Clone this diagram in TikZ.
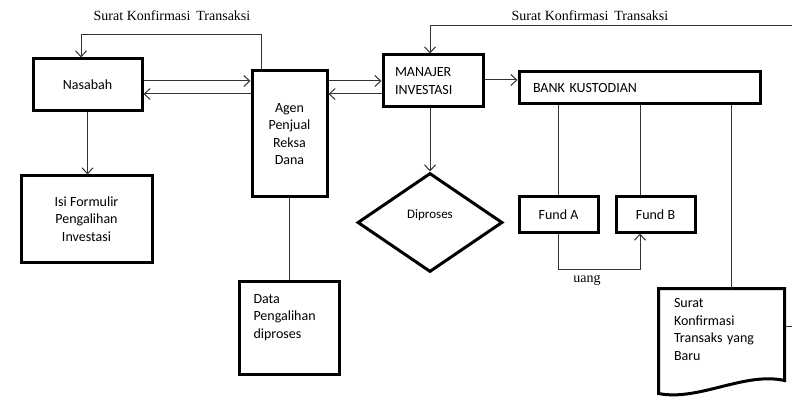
\documentclass[tikz,border=0pt]{standalone}
\usepackage{fontspec}
\setmainfont{Liberation Serif}
\newfontfamily\boxfont{Carlito}
\usetikzlibrary{shapes.geometric,arrows.meta,positioning,calc}

\begin{document}
\begin{tikzpicture}[x=1pt, y=-1pt]

% Define styles
\tikzstyle{box} = [rectangle, minimum width=109pt, minimum height=52pt, text centered, draw=black, line width=3pt, inner sep=0pt, font=\boxfont\fontsize{14}{17.5}\selectfont, align=center]
\tikzstyle{decision} = [diamond, minimum width=145pt, minimum height=99pt, draw=black, line width=3pt, inner sep=0pt, font=\boxfont\fontsize{13}{16}\selectfont]
\tikzstyle{arrow} = [line width=1pt, black!80, -{Straight Barb[length=6pt,width=11pt]}]
\tikzstyle{link} = [line width=1pt, black!80]
\tikzstyle{note} = [font=\fontsize{14}{16}\selectfont, inner sep=0pt]

\useasboundingbox (0,0) rectangle (792,398);

% Customer side
\node (nasabah) [box] at (87.5,85) {Nasabah};
\node (isi) [box, minimum width=131pt, minimum height=86pt, below=62pt of nasabah, xshift=-1pt] {Isi Formulir\\Pengalihan\\Investasi};

% Selling agent
\node (agen) [box, minimum width=75pt, minimum height=126pt] at (289.5,134) {Agen\\Penjual\\Reksa\\Dana};
\node (data) [box, minimum width=100pt, minimum height=93pt, text width=72pt, align=left, below=81pt of agen] {Data\\Pengalihan\\diproses\\\strut};

% Investment manager
\node (manajer) [box, minimum width=100pt, text width=76pt, align=left] at (433,81) {MANAJER\\INVESTASI};
\node (proses) [decision, below=63pt of manajer, xshift=-3pt] {\raisebox{4pt}[0pt][0pt]{Diproses}};

% Custodian bank
\node (bank) [box, minimum width=241pt, minimum height=32pt, text width=213pt, align=left] at (639.5,88) {BANK KUSTODIAN};
\node (funda) [box, minimum width=79pt, minimum height=35pt] at (558.5,214.5) {Fund A};
\node (fundb) [box, minimum width=79pt, minimum height=35pt, right=15pt of funda] {Fund B};

% Confirmation document
\node (doc) [box, draw=none, minimum width=123pt, minimum height=102pt, text width=95pt, align=left] at (721.5,341) {Surat\\Konfirmasi\\Transaks yang\\Baru\\\strut};
\draw [line width=3pt, line join=miter] (doc.south west) -- (doc.north west) -- (doc.north east) -- ([yshift=13pt]doc.south east)
  .. controls ([xshift=-40pt,yshift=22pt]doc.south east) and ([xshift=40pt,yshift=-8pt]doc.south west) .. (doc.south west) -- cycle;

% Connect customer and agent
\draw [arrow] (nasabah.south) -- (nasabah.south |- isi.north);
\draw [arrow] ([yshift=4pt]nasabah.east) -- ([yshift=4pt]nasabah.east -| agen.west);
\draw [arrow] ([yshift=-9pt]nasabah.east -| agen.west) -- ([yshift=-9pt]nasabah.east);
\draw [arrow] ([xshift=-28.5pt]agen.north) -- ++(0,-35) -| ([xshift=-6.5pt]nasabah.north);
\node (lbl_left) [note] at (172,16) {Surat Konfirmasi\, Transaksi};
\draw [link] (agen.south) -- (data.north);

% Connect agent and manager
\draw [arrow] (agen.east |- manajer.west) -- (manajer.west);
\draw [arrow] ([yshift=-13pt]manajer.west) -- ([yshift=-13pt]manajer.west -| agen.east);
\draw [arrow] ([xshift=-3pt]manajer.south) -- (proses.north);
\draw [arrow] ([yshift=1pt]manajer.east) -- ([yshift=1pt]manajer.east -| bank.west);

% Custodian bank links
\draw [link] (funda.north |- bank.south) -- (funda.north);
\draw [link] ([xshift=-15.5pt]fundb.north |- bank.south) -- ([xshift=-15.5pt]fundb.north);
\draw [arrow] (funda.south) -- ++(0,36) -| ([xshift=-15.5pt]fundb.south);
\node (lbl_uang) [note] at (587,280) {uang};
\draw [link] ([xshift=9.5pt]doc.north |- bank.south) -- ([xshift=9.5pt]doc.north);

% Confirmation back to manager
\coordinate (edge) at (800,26);
\draw [arrow] ([yshift=15pt]doc.east) -| (edge) -| ([xshift=-3pt]manajer.north);
\node (lbl_right) [note] at (590,16) {Surat Konfirmasi\, Transaksi};

\end{tikzpicture}
\end{document}
